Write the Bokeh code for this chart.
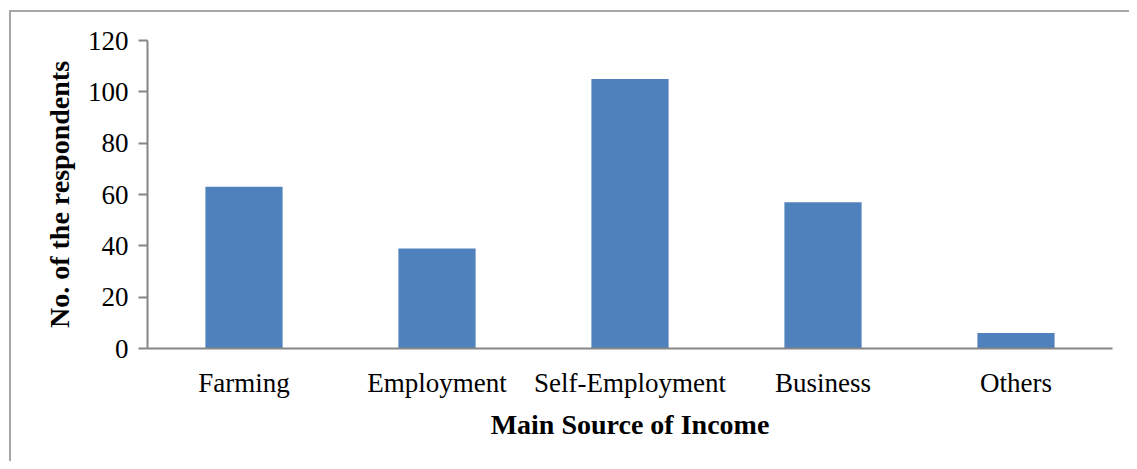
from bokeh.plotting import figure
from bokeh.models import FactorRange, Range1d, FixedTicker, ColumnDataSource
from bokeh.embed import file_html
from bokeh.resources import INLINE

categories = ["Farming", "Employment", "Self-Employment", "Business", "Others"]
respondents = [63, 39, 105, 57, 6]
y_ticks = [0, 20, 40, 60, 80, 100, 120]

FONT = "Liberation Serif"
AXIS_GRAY = "#868686"
BORDER = "#a6a6a6"

src = ColumnDataSource(dict(cat=categories, val=respondents))

p = figure(
    x_range=FactorRange(factors=categories),
    y_range=Range1d(0, 120),
    width=1129, height=461,
    output_backend="svg", toolbar_location=None,
    min_border_left=147, min_border_right=17,
    min_border_top=40, min_border_bottom=113,
)

# outer chart border (only its left and top edges fall inside the picture)
p.styles = {
    "background-color": "white",
    "background-image": f"linear-gradient({BORDER},{BORDER}), linear-gradient({BORDER},{BORDER})",
    "background-position": "9px 10px, 9px 10px",
    "background-size": "2px 100%, 100% 2px",
    "background-repeat": "no-repeat",
}

p.vbar(x="cat", top="val", width=0.4, source=src, color="#4F81BD", line_color=None)

p.outline_line_color = None
p.xgrid.grid_line_color = None
p.ygrid.grid_line_color = None
p.background_fill_color = None
p.border_fill_color = None

# y axis
p.yaxis.ticker = FixedTicker(ticks=y_ticks)
p.yaxis.axis_line_color = AXIS_GRAY
p.yaxis.axis_line_width = 2
p.yaxis.major_tick_line_color = AXIS_GRAY
p.yaxis.major_tick_line_width = 2
p.yaxis.major_tick_out = 9
p.yaxis.major_tick_in = 0
p.yaxis.minor_tick_line_color = None
p.yaxis.major_label_text_font = FONT
p.yaxis.major_label_text_font_size = "27px"
p.yaxis.major_label_text_color = "black"
p.yaxis.major_label_standoff = 10
p.yaxis.axis_label = "No. of the respondents"
p.yaxis.axis_label_text_font = FONT
p.yaxis.axis_label_text_font_style = "bold"
p.yaxis.axis_label_text_font_size = "28px"
p.yaxis.axis_label_text_color = "black"
p.yaxis.axis_label_standoff = 10

# x axis
p.xaxis.axis_line_color = AXIS_GRAY
p.xaxis.axis_line_width = 2
p.xaxis.major_tick_line_color = None
p.xaxis.minor_tick_line_color = None
p.xaxis.major_label_text_font = FONT
p.xaxis.major_label_text_font_size = "27px"
p.xaxis.major_label_text_color = "black"
p.xaxis.major_label_standoff = 13
p.xaxis.axis_label = "Main Source of Income"
p.xaxis.axis_label_text_font = FONT
p.xaxis.axis_label_text_font_style = "bold"
p.xaxis.axis_label_text_font_size = "28px"
p.xaxis.axis_label_text_color = "black"
p.xaxis.axis_label_standoff = 8

open("out.html", "w").write(file_html(p, INLINE))
